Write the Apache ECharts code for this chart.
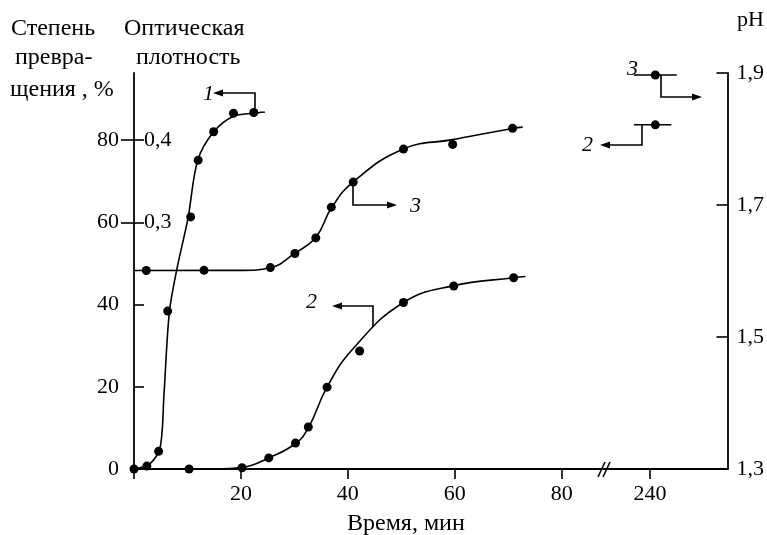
<!DOCTYPE html>
<html>
<head>
<meta charset="utf-8">
<script src="https://cdn.jsdelivr.net/npm/echarts@6/dist/echarts.min.js"></script>
<style>
  html, body { margin: 0; padding: 0; background: #fff; }
  #chart { width: 767px; height: 535px; }
</style>
</head>
<body>
<div id="chart"></div>
<script>
  // ---- данные ----
  // ось времени: 0..80 мин, затем разрыв и 240 мин
  const xTicks = [0, 20, 40, 60, 80, 240];
  const percentTicks = [0, 20, 40, 60, 80];
  const densityTicks = [0.3, 0.4];
  const phTicks = [1.3, 1.5, 1.7, 1.9];

  // кривая 1 — оптическая плотность (точки и сглаженная линия)
  const c1DotTime = [0, 2.4, 4.6, 6.3, 10.6, 12.0, 14.9, 18.6, 22.4];
  const c1DotVal = [0, 0.0035, 0.0215, 0.192, 0.3065, 0.3755, 0.41, 0.4325, 0.4335];
  const c1LineTime = [0, 3.0, 4.9, 5.6, 6.6, 8.0, 10.1, 11.9, 14.9, 18.6, 22.4, 24.5];
  const c1LineVal = [0, 0.0065, 0.0265, 0.09, 0.19, 0.2425, 0.305, 0.375, 0.41, 0.429, 0.4325, 0.434];

  // кривая 2 — степень превращения, %
  const c2DotTime = [10.3, 20.2, 25.2, 30.2, 32.6, 36.1, 42.2, 50.4, 59.8, 71.0, 241];
  const c2DotVal = [0, 0.3, 2.7, 6.3, 10.2, 19.9, 28.7, 40.5, 44.5, 46.5, 83.7];
  const c2LineTime = [0, 15, 20.3, 25.2, 30.2, 32.6, 36.1, 41, 50.4, 59.8, 71, 73.2];
  const c2LineVal = [0, 0, 0.4, 2.7, 6.2, 10, 19.9, 29.3, 40.5, 44.6, 46.5, 46.8];
  const c2TailTime = [237, 241, 244];
  const c2TailVal = [83.7, 83.7, 83.7];

  // кривая 3 — pH
  const c3DotTime = [2.3, 13.1, 25.5, 30.1, 34.0, 36.9, 41.0, 50.4, 59.6, 70.8, 241];
  const c3DotVal = [1.6007, 1.601, 1.6052, 1.6265, 1.6501, 1.6967, 1.7347, 1.7847, 1.7918, 1.8161, 1.897];
  const c3LineTime = [0, 20, 25.5, 30.1, 34, 36.9, 41, 50.4, 59.6, 70.8, 72.7];
  const c3LineVal = [1.6007, 1.601, 1.605, 1.627, 1.651, 1.695, 1.735, 1.785, 1.799, 1.816, 1.818];
  const c3TailTime = [237, 241, 245];
  const c3TailVal = [1.897, 1.897, 1.897];

  // ---- разрыв оси: 240 мин рисуется в позиции 96.5 ----
  const X240 = 96.5;
  const xPos = (t) => (t <= 80 ? t : X240 + (t - 240));
  const pairs = (ts, vs) => ts.map((t, i) => [xPos(t), vs[i]]);
  const comma = (v, d) => v.toFixed(d).replace('.', ',');

  const FONT = 'Liberation Serif';
  const INK = '#000';

  const chart = echarts.init(document.getElementById('chart'), null, { renderer: 'canvas' });

  const lineSeries = (name, data, yIdx, smooth) => ({
    name, type: 'line', data, yAxisIndex: yIdx,
    showSymbol: false, smooth: smooth || 0.3,
    lineStyle: { color: INK, width: 1.6 }, animation: false, z: 3
  });
  const dotSeries = (name, data, yIdx) => ({
    name, type: 'scatter', data, yAxisIndex: yIdx,
    symbolSize: 9, itemStyle: { color: INK, opacity: 1 }, animation: false, z: 4
  });

  // стрелки-указатели осей для кривых
  const pointers = [
    { path: [[255, 110], [255, 93], [213, 93]], label: '1', lx: 203, ly: 94 },
    { path: [[353, 183], [353, 205], [397, 205]], label: '3', lx: 410, ly: 206 },
    { path: [[373, 327], [373, 306], [332, 306]], label: '2', lx: 306, ly: 302 },
    { path: [[661, 75], [661, 97], [702, 97]], label: '3', lx: 627, ly: 69 },
    { path: [[642, 125], [642, 145], [600, 145]], label: '2', lx: 582, ly: 145 }
  ];
  const graphics = [];
  pointers.forEach((p) => {
    const n = p.path.length;
    const tip = p.path[n - 1];
    const prev = p.path[n - 2];
    const dx = Math.sign(tip[0] - prev[0]);
    const base = [tip[0] - dx * 10, tip[1]];
    graphics.push({
      type: 'polyline',
      shape: { points: p.path.slice(0, n - 1).concat([base]) },
      style: { stroke: INK, lineWidth: 1.6, fill: null }
    });
    graphics.push({
      type: 'polygon',
      shape: { points: [tip, [base[0], base[1] - 3.5], [base[0], base[1] + 3.5]] },
      style: { fill: INK }
    });
    graphics.push({
      type: 'text', x: p.lx, y: p.ly,
      style: { text: p.label, font: 'italic 22px "' + FONT + '"', fill: INK, verticalAlign: 'middle' }
    });
  });

  // подписи осей
  const txt = (text, x, y, size) => ({
    type: 'text', x, y,
    style: { text, font: (size || 24) + 'px "' + FONT + '"', fill: INK, verticalAlign: 'middle' }
  });
  graphics.push(txt('Степень', 11, 29));
  graphics.push(txt('превра-', 15, 58));
  graphics.push(txt('щения , %', 10, 90));
  graphics.push(txt('Оптическая', 124, 29));
  graphics.push(txt('плотность', 136, 58));
  graphics.push(txt('pH', 737, 20, 22));
  graphics.push(txt('Время, мин', 347, 524));

  // знак разрыва //
  graphics.push({ type: 'line', shape: { x1: 598, y1: 477, x2: 605, y2: 462 }, style: { stroke: INK, lineWidth: 1.6 } });
  graphics.push({ type: 'line', shape: { x1: 603, y1: 477, x2: 610, y2: 462 }, style: { stroke: INK, lineWidth: 1.6 } });

  const option = {
    backgroundColor: '#fff',
    animation: false,
    grid: { left: 134, right: 39, top: 73, bottom: 66 },
    xAxis: {
      type: 'value', min: 0, max: 111,
      axisLine: { lineStyle: { color: INK, width: 1.8 } },
      axisTick: { show: true, inside: false, length: 10, lineStyle: { color: INK, width: 1.6 },
        customValues: xTicks.map(xPos) },
      axisLabel: { customValues: xTicks.map(xPos), margin: 14, color: INK, fontFamily: FONT, fontSize: 22,
        formatter: (v) => (v > 85 ? '240' : (v === 0 ? '' : String(Math.round(v)))) },
      splitLine: { show: false }
    },
    yAxis: [
      {
        type: 'value', position: 'left', min: 0, max: 96.3,
        axisLine: { show: true, lineStyle: { color: INK, width: 1.8 } },
        axisTick: { show: true, inside: true, length: 10, lineStyle: { color: INK, width: 1.6 },
          customValues: percentTicks },
        axisLabel: { customValues: percentTicks, margin: 15, color: INK, fontFamily: FONT, fontSize: 22 },
        splitLine: { show: false }
      },
      {
        type: 'value', position: 'left', min: 0, max: 96.3 / 200,
        axisLine: { show: false },
        axisTick: { show: true, inside: false, length: 13, lineStyle: { color: INK, width: 1.6 },
          customValues: densityTicks },
        axisLabel: { customValues: densityTicks, inside: true, margin: 10, color: INK, fontFamily: FONT, fontSize: 22,
          formatter: (v) => comma(v, 1) },
        splitLine: { show: false }
      },
      {
        type: 'value', position: 'right', min: 1.3, max: 1.9,
        axisLine: { show: true, lineStyle: { color: INK, width: 1.8 } },
        axisTick: { show: true, inside: true, length: 11, lineStyle: { color: INK, width: 1.6 },
          customValues: phTicks },
        axisLabel: { customValues: phTicks, margin: 9, color: INK, fontFamily: FONT, fontSize: 22,
          formatter: (v) => comma(v, 1) },
        splitLine: { show: false }
      }
    ],
    series: [
      lineSeries('1', pairs(c1LineTime, c1LineVal), 1),
      dotSeries('1 точки', pairs(c1DotTime, c1DotVal), 1),
      lineSeries('2', pairs(c2LineTime, c2LineVal), 0, 0.45),
      lineSeries('2 (240)', pairs(c2TailTime, c2TailVal), 0),
      dotSeries('2 точки', pairs(c2DotTime, c2DotVal), 0),
      lineSeries('3', pairs(c3LineTime, c3LineVal), 2, 0.45),
      lineSeries('3 (240)', pairs(c3TailTime, c3TailVal), 2),
      dotSeries('3 точки', pairs(c3DotTime, c3DotVal), 2)
    ],
    graphic: graphics
  };

  chart.setOption(option);
</script>
</body>
</html>
